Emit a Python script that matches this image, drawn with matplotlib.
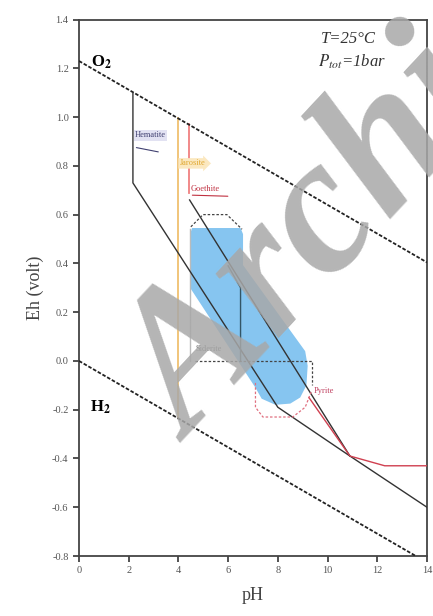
import numpy as np
import matplotlib
matplotlib.use("Agg")
import matplotlib.pyplot as plt

plt.rcParams['font.family'] = ['Liberation Serif', 'DejaVu Serif']
plt.rcParams['mathtext.fontset'] = 'stix'

# water stability lines
o2_ph = [0, 14]
o2_eh = [1.23, 0.404]
h2_ph = [0, 13.55]
h2_eh = [0.0, -0.80]

# solid boundaries
hem_ph = [2.17, 2.17, 8.0, 10.9, 14.0]
hem_eh = [1.10, 0.73, -0.19, -0.39, -0.60]
line_b_ph = [4.45, 10.9]
line_b_eh = [0.66, -0.39]
vert_ph = [6.0, 6.5, 6.5]
vert_eh = [0.39, 0.30, 0.0]
gray_ph = [4.47, 4.47]
gray_eh = [0.54, 0.0]

# coloured boundaries
orange_ph = [3.98, 3.98]
orange_eh = [0.995, -0.236]
red_v_ph = [4.42, 4.42]
red_v_eh = [0.97, 0.69]
red_ph = [9.25, 10.9, 11.6, 12.3, 14.0]
red_eh = [-0.15, -0.39, -0.41, -0.43, -0.43]

# shaded field
blue_ph = [4.47, 4.55, 6.5, 6.6, 6.6, 9.1, 9.2, 9.15, 8.9, 8.5, 7.9, 7.35, 7.1, 4.47]
blue_eh = [0.52, 0.545, 0.545, 0.52, 0.393, 0.04, -0.02, -0.10, -0.15, -0.175, -0.18, -0.155, -0.11, 0.30]

# dashed outlines
cap_ph = [4.5, 4.99, 5.95, 6.56]
cap_eh = [0.55, 0.60, 0.60, 0.54]
zero_ph = [4.67, 9.37, 9.37]
zero_eh = [0.0, 0.0, -0.10]
pink_ph = [7.1, 7.1, 7.4, 8.6, 9.1, 9.37]
pink_eh = [-0.09, -0.19, -0.23, -0.23, -0.19, -0.12]

x_ticks = [0, 2, 4, 6, 8, 10, 12, 14]
y_ticks = [-0.8, -0.6, -0.4, -0.2, 0.0, 0.2, 0.4, 0.6, 0.8, 1.0, 1.2, 1.4]
y_labels = ['-0.8', '-0.6', '-0.4', '-0.2', '0.0', '0.2', '0.4', '0.6', '0.8', '1.0', '1.2', '1.4']

fig = plt.figure(figsize=(4.33, 6.16), dpi=100)
ax = fig.add_axes([0.1824, 0.0974, 0.8037, 0.8709])
ax.set_xlim(0, 14)
ax.set_ylim(-0.8, 1.4)

ax.fill(blue_ph, blue_eh, color='#86c5f0', lw=0, zorder=1)

ax.plot(o2_ph, o2_eh, color='#222222', lw=1.3, dashes=(2, 1), zorder=3)
ax.plot(h2_ph, h2_eh, color='#222222', lw=1.3, dashes=(2, 1), zorder=3)
ax.plot(hem_ph, hem_eh, color='#333333', lw=1.0, zorder=3)
ax.plot(line_b_ph, line_b_eh, color='#333333', lw=1.0, zorder=3)
ax.plot(vert_ph, vert_eh, color='#335566', lw=1.0, zorder=3)
ax.plot(gray_ph, gray_eh, color='#bbbbbb', lw=1.0, zorder=2)
ax.plot(orange_ph, orange_eh, color='#f0c070', lw=1.3, zorder=2)
ax.plot(red_v_ph, red_v_eh, color='#f08080', lw=1.3, zorder=2)
ax.plot(red_ph, red_eh, color='#d04050', lw=1.0, zorder=3)

ax.plot(cap_ph, cap_eh, color='#444444', lw=0.9, dashes=(2, 1.5), zorder=3)
ax.plot(zero_ph, zero_eh, color='#444444', lw=0.9, dashes=(2, 1.5), zorder=3)
ax.plot(pink_ph, pink_eh, color='#e07080', lw=0.9, dashes=(2, 1.5), zorder=3)

# mineral labels
ax.text(2.25, 0.925, 'Hematite', fontsize=6, color='#404070', va='center',
        bbox=dict(boxstyle='square,pad=0.15', fc='#e2e2f2', ec='none'), zorder=4)
ax.annotate('', xy=(3.3, 0.855), xytext=(2.2, 0.877),
            arrowprops=dict(arrowstyle='-', color='#404070', lw=0.8))
ax.text(4.05, 0.81, 'Jarosite', fontsize=6, color='#e0a830', va='center',
        bbox=dict(boxstyle='rarrow,pad=0.15', fc='#fbe8c0', ec='none'), zorder=4)
ax.text(4.5, 0.705, 'Goethite', fontsize=6, color='#c03040', va='center', zorder=4)
ax.annotate('', xy=(6.1, 0.675), xytext=(4.45, 0.68),
            arrowprops=dict(arrowstyle='-', color='#c03040', lw=0.8))
ax.text(4.7, 0.05, 'Siderite', fontsize=6, color='#666666', va='center', zorder=4)
ax.text(9.45, -0.125, 'Pyrite', fontsize=6, color='#c04060', va='center', zorder=4)

ax.text(0.5, 1.225, r'O$_\mathbf{2}$', fontsize=12, fontweight='bold', va='center')
ax.text(0.45, -0.19, r'H$_\mathbf{2}$', fontsize=12, fontweight='bold', va='center')
ax.text(9.75, 1.32, 'T=25°C', fontsize=12, style='italic', va='center', color='#333333')
ax.text(9.6, 1.225, r'$P_{tot}$=1bar', fontsize=12, style='italic', va='center', color='#333333')

ax.set_xticks(x_ticks)
ax.set_yticks(y_ticks)
ax.set_yticklabels(y_labels)
ax.tick_params(direction='out', length=4, width=1.2, labelsize=7.5, colors='#333333',
               labelcolor='#555555')
for sp in ax.spines.values():
    sp.set_linewidth(1.3)
    sp.set_color('#444444')
ax.set_xlabel('pH', fontsize=13, color='#444444', labelpad=8)
ax.set_ylabel('Eh (volt)', fontsize=13, color='#444444', labelpad=6)

# watermark, rotated about its own baseline start
fig.text(0.44, 0.28, 'Archi', fontsize=141, fontweight='bold', style='italic',
         color='#a8a8a8', alpha=0.85, rotation=47, rotation_mode='anchor',
         ha='left', va='baseline', zorder=10)

fig.savefig('out.png', dpi=100)
